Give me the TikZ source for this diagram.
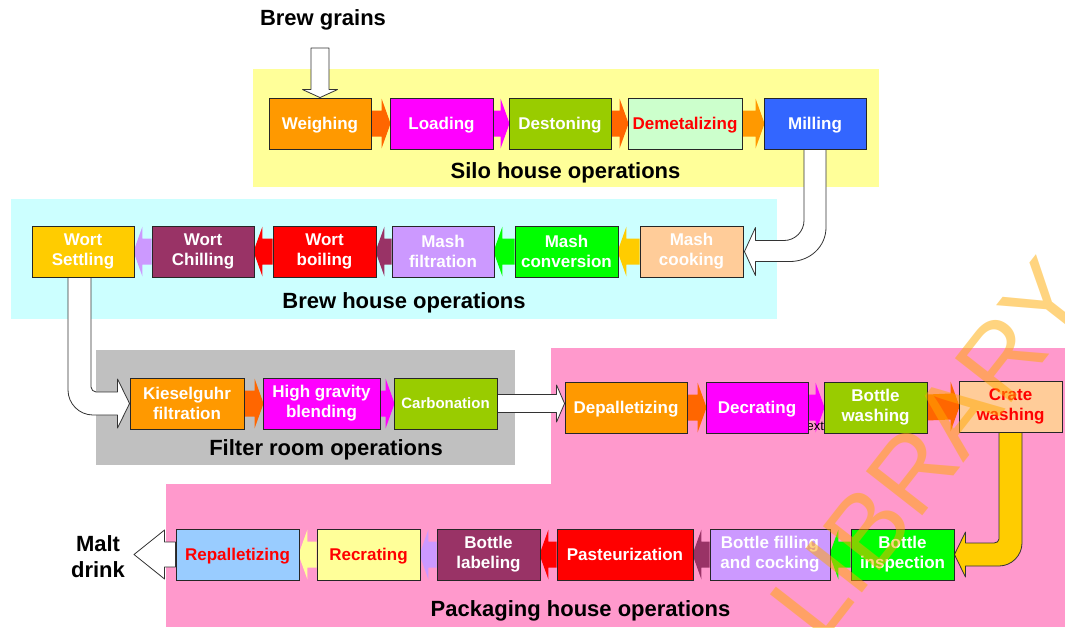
\documentclass[tikz,border=0pt]{standalone}
\usepackage{fontspec}
\setmainfont{Liberation Sans}
\usetikzlibrary{calc}

% palette
\definecolor{cOrange}{HTML}{FF9900}
\definecolor{cRedOrange}{HTML}{FF6600}
\definecolor{cMagenta}{HTML}{FF00FF}
\definecolor{cOlive}{HTML}{99CC00}
\definecolor{cMint}{HTML}{CCFFCC}
\definecolor{cBlue}{HTML}{3366FF}
\definecolor{cGold}{HTML}{FFCC00}
\definecolor{cPlum}{HTML}{993366}
\definecolor{cRed}{HTML}{FF0000}
\definecolor{cLilac}{HTML}{CC99FF}
\definecolor{cGreen}{HTML}{00FF00}
\definecolor{cPeach}{HTML}{FFCC99}
\definecolor{cCream}{HTML}{FFFF99}
\definecolor{cSky}{HTML}{99CCFF}
\definecolor{bandYellow}{HTML}{FFFF99}
\definecolor{bandCyan}{HTML}{CCFFFF}
\definecolor{bandGray}{HTML}{C0C0C0}
\definecolor{bandPink}{HTML}{FF99CC}
\definecolor{wmOrange}{HTML}{FFAA00}

\newcommand\boxfont{\bfseries\fontsize{17}{20}\selectfont}
\newcommand\smallboxfont{\bfseries\fontsize{15}{18}\selectfont}
\newcommand\headfont{\bfseries\fontsize{22}{26}\selectfont}
\newcommand\wmfont{\fontsize{104}{116}\selectfont}

% straight block arrows between neighbouring boxes
\newcommand\flowR[3]{\fill[#3] ($(#1.east)+(0,-13)$) -- ($(#2.west)+(-8,-13)$) -- ($(#2.west)+(-8,-25)$) -- ($(#2.west)+(1,0)$) -- ($(#2.west)+(-8,25)$) -- ($(#2.west)+(-8,13)$) -- ($(#1.east)+(0,13)$) -- cycle;}
\newcommand\flowL[3]{\fill[#3] ($(#1.west)+(0,-13)$) -- ($(#2.east)+(8,-13)$) -- ($(#2.east)+(8,-25)$) -- ($(#2.east)+(-1,0)$) -- ($(#2.east)+(8,25)$) -- ($(#2.east)+(8,13)$) -- ($(#1.west)+(0,13)$) -- cycle;}

\pgfdeclarelayer{bands}
\pgfdeclarelayer{flow}
\pgfdeclarelayer{mark}
\pgfsetlayers{bands,flow,main,mark}

\tikzset{
  stage/.style={draw=black!85, line width=0.9pt, minimum height=51pt, inner sep=0pt,
    align=center, font=\boxfont, text=white},
  oneline/.style={text height=12.2pt, text depth=0pt},
  redtext/.style={text=cRed},
  heading/.style={font=\headfont, text=black, inner sep=0pt, anchor=base},
  hollow/.style={draw=black!80, line width=0.8pt, fill=white, line join=round},
}

\begin{document}
\begin{tikzpicture}[x=1pt,y=-1pt]
\useasboundingbox (0,0) rectangle (1065,627);

% ---------- stages ----------
% silo house
\node[stage, oneline, minimum width=102pt, fill=cOrange]  (weigh)  at (320,123.5)   {Weighing};
\node[stage, oneline, minimum width=103pt, fill=cMagenta] (load)   at (441.5,123.5) {Loading};
\node[stage, oneline, minimum width=102pt, fill=cOlive]   (deston) at (560,123.5)   {Destoning};
\node[stage, oneline, minimum width=114pt, fill=cMint, redtext] (demet) at (685,123.5) {Demetalizing};
\node[stage, oneline, minimum width=102pt, fill=cBlue]    (mill)   at (815,123.5)   {Milling};
% brew house
\node[stage, minimum width=102pt, fill=cGold]    (settle) at (83,251.5)    {Wort\\Settling};
\node[stage, minimum width=102pt, fill=cPlum]    (chill)  at (203,251.5)   {Wort\\Chilling};
\node[stage, minimum width=103pt, fill=cRed]     (boil)   at (324.5,251.5) {Wort\\boiling};
\node[stage, minimum width=102pt, fill=cLilac]   (mfilt)  at (443,251.5)   {Mash\\filtration};
\node[stage, minimum width=103pt, fill=cGreen]   (mconv)  at (566.5,251.5) {Mash\\conversion};
\node[stage, minimum width=103pt, fill=cPeach]   (mcook)  at (691.5,251.5) {Mash\\cooking};
% filter room
\node[stage, minimum width=114pt, fill=cOrange]  (kiesel) at (187,403.5)   {Kieselguhr\\filtration};
\node[stage, minimum width=117pt, fill=cMagenta] (hgb)    at (321.5,403.5) {High gravity\\blending};
\node[stage, minimum width=103pt, fill=cOlive, font=\smallboxfont, text height=10.7pt, text depth=0pt] (carb) at (445.5,403.5) {Carbonation};
% packaging house, upper line
\node[stage, oneline, minimum width=122pt, fill=cOrange]  (depal)  at (626,407.5)   {Depalletizing};
\node[stage, oneline, minimum width=102pt, fill=cMagenta] (decrat) at (757,407.5)   {Decrating};
\node[stage, minimum width=103pt, fill=cOlive]   (bwash)  at (875.5,407.5) {Bottle\\washing};
\node[stage, minimum width=103pt, fill=cPeach, redtext] (crate) at (1010.5,406.5) {Crate\\washing};
% packaging house, lower line
\node[stage, minimum width=103pt, fill=cGreen]   (binsp)  at (902.5,554.5) {Bottle\\inspection};
\node[stage, minimum width=120pt, fill=cLilac]   (bfill)  at (770,554.5)   {Bottle filling\\and cocking};
\node[stage, oneline, minimum width=136pt, fill=cRed]     (past)   at (625,554.5)   {Pasteurization};
\node[stage, minimum width=103pt, fill=cPlum]    (blabel) at (488.5,554.5) {Bottle\\labeling};
\node[stage, oneline, minimum width=103pt, fill=cCream, redtext] (recrat) at (368.5,554.5) {Recrating};
\node[stage, oneline, minimum width=123pt, fill=cSky, redtext]   (repal)  at (237.5,554.5) {Repalletizing};

% ---------- outer labels ----------
\node[heading] (grains) at (323,25.7) {Brew grains};
\node[font=\headfont, inner sep=0pt, align=center] (malt) at (98,557) {Malt\\drink};
\coordinate (grainsin) at (320,48);
\coordinate (maltin) at (134,554.5);

% ---------- operation areas ----------
\begin{pgfonlayer}{bands}
  \fill[bandYellow] (253,69) rectangle (879,187);
  \fill[bandCyan]   (11,199) rectangle (777,319);
  \fill[bandGray]   (96,350) rectangle (515,465);
  \fill[bandPink]   (551,348) rectangle (1065,627);
  \fill[bandPink]   (166,484) rectangle (1065,627);
\end{pgfonlayer}
\node[heading] (silohd)   at (565.5,178) {Silo house operations};
\node[heading] (brewhd)   at (404,308)   {Brew house operations};
\node[heading] (filterhd) at (326,455)   {Filter room operations};
\node[heading] (packhd)   at (580.5,616.5) {Packaging house operations};

% ---------- connectors ----------
\begin{pgfonlayer}{flow}
  \flowR{weigh}{load}{cRedOrange}
  \flowR{load}{deston}{cMagenta}
  \flowR{deston}{demet}{cRedOrange}
  \flowR{demet}{mill}{cOrange}
  \flowL{mcook}{mconv}{cGold}
  \flowL{mconv}{mfilt}{cGreen}
  \flowL{mfilt}{boil}{cPlum}
  \flowL{boil}{chill}{cRed}
  \flowL{chill}{settle}{cLilac}
  \flowR{kiesel}{hgb}{cRedOrange}
  \flowR{hgb}{carb}{cMagenta}
  \flowR{depal}{decrat}{cRedOrange}
  \flowR{decrat}{bwash}{cMagenta}
  \flowR{bwash}{crate}{cRedOrange}
  \flowL{binsp}{bfill}{cGreen}
  \flowL{bfill}{past}{cPlum}
  \flowL{past}{blabel}{cRed}
  \flowL{blabel}{recrat}{cLilac}
  \flowL{recrat}{repal}{cCream}

  % leftover caption, mostly hidden behind the boxes
  \node[font=\fontsize{13}{15}\selectfont, inner sep=0pt, anchor=base west] (stray) at (800,430) {Text};

  % grains into weighing
  \draw[hollow] ($(grainsin)+(-9,0)$) -- ($(weigh.north)+(-9,-8)$) -- ($(weigh.north)+(-17.5,-8)$)
    -- (weigh.north) -- ($(weigh.north)+(17.5,-8)$) -- ($(weigh.north)+(9,-8)$) -- ($(grainsin)+(9,0)$) -- cycle;

  % milling down to mash cooking
  \coordinate (mx) at (mill.south |- mcook.east);
  \draw[hollow] ($(mill.south)+(-11,0)$) -- ($(mx)+(-11,-31)$)
    .. controls ($(mx)+(-11,-20)$) and ($(mx)+(-20,-11)$) .. ($(mx)+(-31,-11)$)
    -- ($(mcook.east)+(12,-11)$) -- ($(mcook.east)+(12,-24)$) -- ($(mcook.east)+(1,0)$)
    -- ($(mcook.east)+(12,24)$) -- ($(mcook.east)+(12,10)$) -- ($(mx)+(-25,10)$)
    .. controls ($(mx)+(-5,10)$) and ($(mx)+(11,-5)$) .. ($(mx)+(11,-24)$)
    -- ($(mill.south)+(11,0)$) -- cycle;

  % wort settling down to kieselguhr filtration
  \coordinate (sx) at (settle.south |- kiesel.west);
  \draw[hollow] ($(settle.south)+(8,0)$) -- ($(sx)+(8,-16.5)$)
    .. controls ($(sx)+(8,-14)$) and ($(sx)+(10.5,-11.5)$) .. ($(sx)+(13,-11.5)$)
    -- ($(kiesel.west)+(-12,-11.5)$) -- ($(kiesel.west)+(-12,-24.5)$) -- (kiesel.west)
    -- ($(kiesel.west)+(-12,24.5)$) -- ($(kiesel.west)+(-12,11.5)$) -- ($(sx)+(10,11.5)$)
    .. controls ($(sx)+(-4,11.5)$) and ($(sx)+(-15,0)$) .. ($(sx)+(-15,-13.5)$)
    -- ($(settle.south)+(-15,0)$) -- cycle;

  % carbonation across to depalletizing
  \coordinate (dpin) at (depal.west |- carb.east);
  \draw[hollow] ($(carb.east)+(0,-9)$) -- ($(dpin)+(-8,-9)$) -- ($(dpin)+(-8,-18.5)$) -- (dpin)
    -- ($(dpin)+(-8,18.5)$) -- ($(dpin)+(-8,9)$) -- ($(carb.east)+(0,9)$) -- cycle;

  % crate washing down to bottle inspection
  \coordinate (cx) at (crate.south |- binsp.east);
  \draw[hollow, fill=cGold] ($(crate.south)+(-11.5,0)$) -- ($(cx)+(-11.5,-15.5)$)
    .. controls ($(cx)+(-11.5,-13)$) and ($(cx)+(-14,-11.5)$) .. ($(cx)+(-16.5,-11.5)$)
    -- ($(binsp.east)+(11,-11.5)$) -- ($(binsp.east)+(11,-22.5)$) -- (binsp.east)
    -- ($(binsp.east)+(11,22.5)$) -- ($(binsp.east)+(11,11.5)$) -- ($(cx)+(-11.5,11.5)$)
    .. controls ($(cx)+(1,11.5)$) and ($(cx)+(11.5,1)$) .. ($(cx)+(11.5,-11.5)$)
    -- ($(crate.south)+(11.5,0)$) -- cycle;

  % repalletizing out to malt drink
  \draw[hollow] ($(repal.west)+(0,-12.5)$) -- ($(repal.west)+(-11,-12.5)$) -- ($(repal.west)+(-11,-24.5)$)
    -- (maltin) -- ($(repal.west)+(-11,24.5)$) -- ($(repal.west)+(-11,12.5)$) -- ($(repal.west)+(0,12.5)$) -- cycle;
\end{pgfonlayer}

% ---------- watermark ----------
\begin{pgfonlayer}{mark}
  \node[font=\wmfont, text=wmOrange, opacity=0.5, rotate=52, anchor=base west, inner sep=0pt] (wm) at (821,646) {LIBRARY};
\end{pgfonlayer}
\end{tikzpicture}
\end{document}
